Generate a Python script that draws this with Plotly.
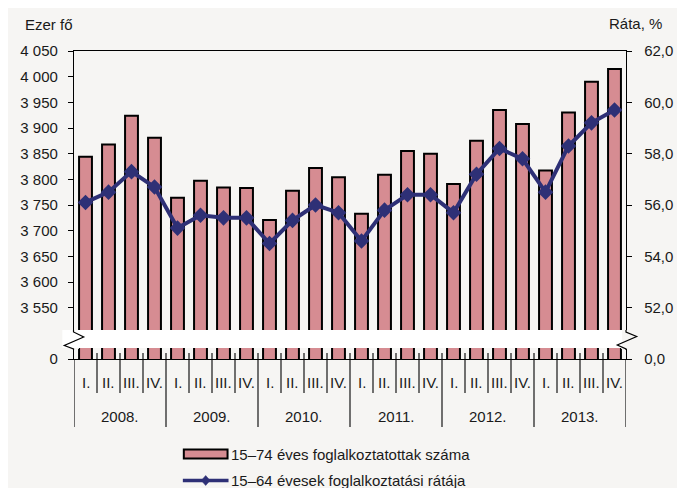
import plotly.graph_objects as go

# ---------------- data ----------------
years = ["2008.", "2009.", "2010.", "2011.", "2012.", "2013."]
quarters = ["I.", "II.", "III.", "IV."]
employed = [3844, 3868, 3924, 3881, 3764, 3797, 3784, 3783,
            3721, 3778, 3822, 3804, 3733, 3809, 3855, 3850,
            3791, 3875, 3935, 3908, 3817, 3930, 3990, 4015]
rate = [56.1, 56.5, 57.3, 56.7, 55.1, 55.6, 55.5, 55.5,
        54.5, 55.4, 56.0, 55.7, 54.6, 55.8, 56.4, 56.4,
        55.7, 57.2, 58.2, 57.8, 56.5, 58.3, 59.2, 59.7]
left_tickvals = [3550, 3600, 3650, 3700, 3750, 3800, 3850, 3900, 3950, 4000, 4050]
right_tickvals = [52, 54, 56, 58, 60, 62]
left_zero_pos = 3450   # broken axis: "0" drawn here
right_zero_pos = 50    # broken axis: "0,0" drawn here
bar_name = "15–74 éves foglalkoztatottak száma"
line_name = "15–64 évesek foglalkoztatási rátája"
left_title = "Ezer fő"
right_title = "Ráta, %"

# ---------------- style ----------------
OFF = 8                      # page body margin
PW, PH = 685, 488            # page (window) size
W, H = PW - OFF, PH - OFF    # figure size
L, R, T, B = 68, 636, 51, 359  # plot area in page pixels
BG = "#f6f5f3"
BAR = "#d68c92"
LINE = "#2e3076"
TXT = "#1a1a1a"
FONT = "Liberation Sans, Arial, sans-serif"
FS = 15


def px(xp):
    return (xp - L) / (R - L)


def py(yp):
    return (B - yp) / (B - T)


labels = [f"{y} {q}" for y in years for q in quarters]
xs = list(range(len(labels)))

fig = go.Figure()
fig.add_trace(go.Bar(
    x=xs, y=employed, name=bar_name, width=0.56,
    marker=dict(color=BAR, line=dict(color="#000000", width=2)),
    hovertext=labels, showlegend=False,
))
fig.add_trace(go.Scatter(
    x=xs, y=rate, name=line_name, yaxis="y2", mode="lines+markers",
    line=dict(color=LINE, width=4),
    marker=dict(symbol="diamond", size=12, color=LINE),
    hovertext=labels, showlegend=False,
))


def fmt_left(v):
    return f"{v:,}".replace(",", " ")


def fmt_right(v):
    return f"{v:.1f}".replace(".", ",")


fig.update_layout(
    width=W, height=H,
    margin=dict(l=L - OFF, r=PW - R, t=T - OFF, b=PH - B, pad=0),
    paper_bgcolor=BG, plot_bgcolor=BG,
    font=dict(family=FONT, size=FS, color=TXT),
    xaxis=dict(range=[-0.5, len(xs) - 0.5], showticklabels=False, ticks="",
               showgrid=False, zeroline=False, showline=True,
               linecolor="#000000", linewidth=1.3, mirror=True),
    yaxis=dict(range=[left_zero_pos, 4050],
               tickvals=[left_zero_pos] + left_tickvals,
               ticktext=["0"] + [fmt_left(v) for v in left_tickvals],
               ticks="outside", ticklen=5, tickcolor="#000000", tickwidth=1,
               ticklabelstandoff=7,
               showgrid=False, zeroline=False, showline=True,
               linecolor="#000000", linewidth=1.3),
    yaxis2=dict(range=[right_zero_pos, 62], overlaying="y", side="right",
                tickvals=[right_zero_pos] + right_tickvals,
                ticktext=[fmt_right(0)] + [fmt_right(v) for v in right_tickvals],
                ticks="outside", ticklen=5, tickcolor="#000000", tickwidth=1,
                ticklabelstandoff=9,
                showgrid=False, zeroline=False, showline=True,
                linecolor="#000000", linewidth=1.3),
)

shapes = []
annotations = []


def path(points):
    s = ""
    for i, (a, b) in enumerate(points):
        s += ("M" if i == 0 else " L") + f" {px(a):.5f},{py(b):.5f}"
    return s


# axis break: background gaps in the axis lines, white band, zigzags
shapes.append(dict(type="rect", xref="paper", yref="paper",
                   x0=px(62), x1=px(73), y0=py(349), y1=py(330),
                   fillcolor=BG, line=dict(width=0), layer="above"))
shapes.append(dict(type="rect", xref="paper", yref="paper",
                   x0=px(631), x1=px(642), y0=py(349), y1=py(330),
                   fillcolor=BG, line=dict(width=0), layer="above"))
shapes.append(dict(type="rect", xref="paper", yref="paper",
                   x0=px(56), x1=px(632), y0=py(348), y1=py(330),
                   fillcolor="#ffffff", line=dict(width=0), layer="above"))
shapes.append(dict(type="path", xref="paper", yref="paper",
                   path=path([(67.5, 330), (67.5, 332), (78, 337), (58, 345.5), (67.5, 349), (67.5, 350)]),
                   line=dict(color="#000000", width=1.2), layer="above"))
shapes.append(dict(type="path", xref="paper", yref="paper",
                   path=path([(636, 330), (636, 332), (647, 336.5), (627, 345), (636, 349), (636, 350)]),
                   line=dict(color="#000000", width=1.2), layer="above"))

# category dividers under the axis
n = len(xs)
for k in range(n + 1):
    xb = k - 0.5
    y_bottom = py(427) if k % 4 == 0 else py(393)
    shapes.append(dict(type="line", xref="x", yref="paper",
                       x0=xb, x1=xb, y0=py(353) if 0 < k < n else 0, y1=y_bottom,
                       line=dict(color="#000000", width=1.1), layer="above"))

# quarter and year labels
for i in xs:
    annotations.append(dict(x=i, y=py(382), xref="x", yref="paper", text=quarters[i % 4],
                            showarrow=False, xanchor="center", yanchor="middle",
                            font=dict(size=FS)))
for j, yr in enumerate(years):
    annotations.append(dict(x=4 * j + 1.5, y=py(416), xref="x", yref="paper", text=yr,
                            showarrow=False, xanchor="center", yanchor="middle",
                            font=dict(size=FS)))

# axis titles
annotations.append(dict(x=px(16), y=py(25), xref="paper", yref="paper", text=left_title,
                        showarrow=False, xanchor="left", yanchor="middle"))
annotations.append(dict(x=px(675), y=py(23), xref="paper", yref="paper", text=right_title,
                        showarrow=False, xanchor="right", yanchor="middle"))

# manual legend
shapes.append(dict(type="rect", xref="paper", yref="paper",
                   x0=px(181), x1=px(226), y0=py(458.5), y1=py(449.5),
                   fillcolor=BAR, line=dict(color="#000000", width=2), layer="above"))
shapes.append(dict(type="line", xref="paper", yref="paper",
                   x0=px(180), x1=px(227), y0=py(480.5), y1=py(480.5),
                   line=dict(color=LINE, width=3.5), layer="above"))
shapes.append(dict(type="path", xref="paper", yref="paper",
                   path=path([(203.5, 475.5), (208, 480.5), (203.5, 485.5), (199, 480.5)]) + " Z",
                   fillcolor=LINE, line=dict(color=LINE, width=0.5), layer="above"))
annotations.append(dict(x=px(228), y=py(454), xref="paper", yref="paper", text=bar_name,
                        showarrow=False, xanchor="left", yanchor="middle"))
annotations.append(dict(x=px(228), y=py(480), xref="paper", yref="paper", text=line_name,
                        showarrow=False, xanchor="left", yanchor="middle"))

fig.update_layout(shapes=shapes, annotations=annotations)
fig.write_html("out.html")
